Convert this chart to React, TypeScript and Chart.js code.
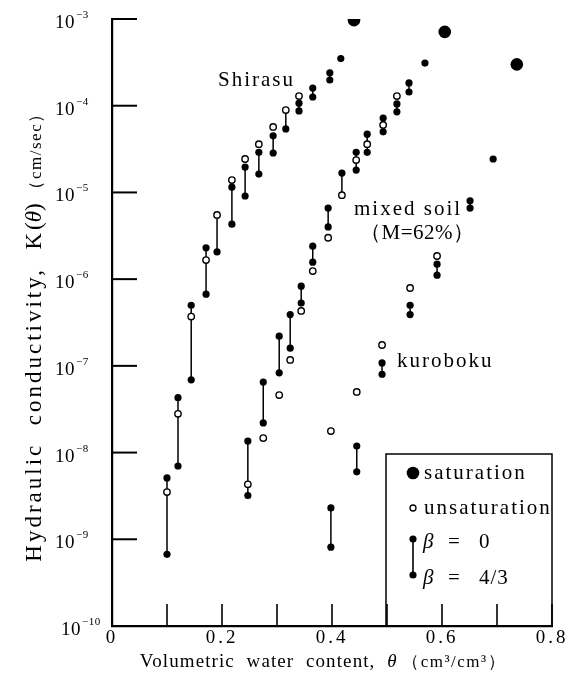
import React, { useEffect, useRef } from 'react';
import { Chart, registerables } from 'chart.js';

Chart.register(...registerables);

// ---------- axis ticks ----------
const yDecades = [-3, -4, -5, -6, -7, -8, -9, -10];
const xTickValues = [0, 0.1, 0.2, 0.3, 0.4, 0.5, 0.6, 0.7, 0.8];

// ---------- Shirasu ----------
const shirasuTheta = [0.100, 0.120, 0.144, 0.171, 0.191, 0.218, 0.242, 0.267, 0.293, 0.316, 0.340, 0.365, 0.396, 0.416];
const shirasuBeta0 = [5.1e-9, 4.3e-8, 5.0e-7, 2.3e-6, null, 1.15e-5, 1.96e-5, 2.9e-5, 4.5e-5, null, 1.07e-4, 1.6e-4, 2.4e-4, 3.5e-4];
const shirasuUnsat = [3.5e-9, 2.8e-8, 3.7e-7, 1.66e-6, 5.5e-6, 1.39e-5, 2.43e-5, 3.6e-5, 5.7e-5, 8.9e-5, 1.29e-4, null, null, null];
const shirasuBeta43 = [6.7e-10, 7.0e-9, 6.9e-8, 6.7e-7, 2.06e-6, 4.3e-6, 9.1e-6, 1.63e-5, 2.85e-5, 5.4e-5, 8.7e-5, 1.26e-4, 1.98e-4, null];
const shirasuSat = { theta: 0.440, k: 9.7e-4 };

// ---------- mixed soil (M=62%) ----------
const mixedTheta = [0.247, 0.275, 0.304, 0.324, 0.344, 0.365, 0.393, 0.418, 0.444, 0.464, 0.493, 0.518, 0.540, 0.569];
const mixedBeta0 = [1.36e-8, 6.5e-8, 2.2e-7, 3.9e-7, 8.3e-7, 2.4e-6, 6.6e-6, 1.67e-5, 2.9e-5, 4.7e-5, 7.2e-5, 1.05e-4, 1.83e-4, 3.1e-4];
const mixedUnsat = [4.3e-9, 1.47e-8, 4.6e-8, 1.17e-7, 4.3e-7, 1.24e-6, 3.0e-6, 9.3e-6, 2.36e-5, 3.6e-5, 6.0e-5, 1.29e-4, null, null];
const mixedBeta43 = [3.2e-9, 2.2e-8, 8.3e-8, 1.6e-7, 5.3e-7, 1.57e-6, 4.0e-6, null, 1.81e-5, 2.9e-5, 5.0e-5, 8.5e-5, 1.44e-4, null];
const mixedSat = { theta: 0.605, k: 7.1e-4 };

// ---------- kuroboku ----------
const kuroTheta = [0.398, 0.445, 0.491, 0.542, 0.591, 0.651, 0.693];
const kuroBeta0 = [2.3e-9, 1.19e-8, 1.08e-7, 5.0e-7, 1.49e-6, 8.0e-6, 2.43e-5];
const kuroUnsat = [1.77e-8, 5.0e-8, 1.74e-7, 7.9e-7, 1.85e-6, null, null];
const kuroBeta43 = [8.1e-10, 6.0e-9, 8.0e-8, 3.9e-7, 1.11e-6, 6.6e-6, null];
const kuroSat = { theta: 0.736, k: 3.0e-4 };

type V = number | null;
const SERIF = '"Liberation Serif", "Times New Roman", serif';

function pts(theta: number[], vals: V[]) {
  const out: { x: number; y: number }[] = [];
  theta.forEach((t, i) => {
    const v = vals[i];
    if (v != null) out.push({ x: t, y: v });
  });
  return out;
}

function segs(theta: number[], b0: V[], un: V[], b43: V[]) {
  const out: { x: number; y: number | null }[] = [];
  theta.forEach((t, i) => {
    const top = b0[i] ?? un[i];
    const bot = b43[i] ?? un[i];
    if (top != null && bot != null && top !== bot) {
      out.push({ x: t, y: top }, { x: t, y: bot }, { x: t, y: null });
    }
  });
  return out;
}

type Run = { t: string; f: string; ls?: number; dy?: number };
function drawRuns(ctx: CanvasRenderingContext2D, runs: Run[], x: number, y: number, align: 'left' | 'center') {
  const widths = runs.map((r) => {
    ctx.font = r.f;
    (ctx as any).letterSpacing = (r.ls ?? 0) + 'px';
    return ctx.measureText(r.t).width;
  });
  const total = widths.reduce((a, b) => a + b, 0);
  let cx = align === 'center' ? x - total / 2 : x;
  runs.forEach((r, i) => {
    ctx.font = r.f;
    (ctx as any).letterSpacing = (r.ls ?? 0) + 'px';
    ctx.fillText(r.t, cx, y + (r.dy ?? 0));
    cx += widths[i];
  });
}

const decor = {
  id: 'decor',
  beforeDraw(chart: any) {
    (chart.ctx as any).letterSpacing = '3px';
  },
  afterDraw(chart: any) {
    const ctx: CanvasRenderingContext2D = chart.ctx;
    (ctx as any).letterSpacing = '0px';
    const { left, right, bottom } = chart.chartArea;
    const xs = chart.scales.x;
    const ys = chart.scales.y;
    ctx.save();
    ctx.strokeStyle = '#000';
    ctx.fillStyle = '#000';
    ctx.textAlign = 'left';
    ctx.textBaseline = 'alphabetic';

    // inward y tick marks
    ctx.lineWidth = 2;
    yDecades.forEach((e) => {
      if (e === -10) return;
      const y = ys.getPixelForValue(Math.pow(10, e));
      ctx.beginPath();
      ctx.moveTo(left, y);
      ctx.lineTo(left + 25, y);
      ctx.stroke();
    });
    // inward x tick marks
    ctx.lineWidth = 1.6;
    xTickValues.forEach((v) => {
      if (v === 0) return;
      const x = xs.getPixelForValue(v);
      ctx.beginPath();
      ctx.moveTo(x, bottom);
      ctx.lineTo(x, bottom - 22);
      ctx.stroke();
    });

    // y tick labels 10^e
    yDecades.forEach((e) => {
      const y = ys.getPixelForValue(Math.pow(10, e));
      const x0 = e === -10 ? 61 : 55;
      ctx.font = '19px ' + SERIF;
      (ctx as any).letterSpacing = '0.5px';
      ctx.fillText('10', x0, y + 9);
      const w = ctx.measureText('10').width;
      ctx.font = '11px ' + SERIF;
      (ctx as any).letterSpacing = '0.5px';
      ctx.fillText('\u2212' + -e, x0 + w + 1, y - 1);
    });

    // x axis title
    drawRuns(ctx, [
      { t: 'Volumetric  water  content,  ', f: '19px ' + SERIF, ls: 1.1 },
      { t: '\u03b8', f: 'italic 19px ' + SERIF },
      { t: ' \uff08cm\u00b3/cm\u00b3\uff09', f: '17px ' + SERIF, ls: 1.5 },
    ], 323, 667, 'center');

    // y axis title (rotated)
    ctx.save();
    ctx.translate(41, 333);
    ctx.rotate(-Math.PI / 2);
    drawRuns(ctx, [
      { t: 'Hydraulic  conductivity,  K', f: '23px ' + SERIF, ls: 3 },
      { t: '(', f: '23px ' + SERIF },
      { t: '\u03b8', f: 'italic 23px ' + SERIF },
      { t: ')', f: '23px ' + SERIF },
      { t: ' \uff08cm/sec\uff09', f: '17px ' + SERIF, ls: 1.5 },
    ], 0, 0, 'center');
    ctx.restore();

    // annotations
    const annFont = '21px ' + SERIF;
    drawRuns(ctx, [{ t: 'Shirasu', f: annFont, ls: 2 }], 218, 86, 'left');
    drawRuns(ctx, [{ t: 'mixed soil', f: annFont, ls: 2 }], 354, 215, 'left');
    drawRuns(ctx, [{ t: '\uff08M=62%\uff09', f: annFont, ls: 0.5 }], 360, 239, 'left');
    drawRuns(ctx, [{ t: 'kuroboku', f: annFont, ls: 2 }], 397, 367, 'left');

    // legend box
    ctx.lineWidth = 1.5;
    ctx.beginPath();
    ctx.moveTo(386, bottom);
    ctx.lineTo(386, 454);
    ctx.lineTo(right, 454);
    ctx.lineTo(right, bottom);
    ctx.stroke();
    // saturation
    ctx.beginPath();
    ctx.arc(413, 473, 6.3, 0, Math.PI * 2);
    ctx.fill();
    drawRuns(ctx, [{ t: 'saturation', f: annFont, ls: 2 }], 424, 479, 'left');
    // unsaturation
    ctx.beginPath();
    ctx.arc(413, 508, 3, 0, Math.PI * 2);
    ctx.fillStyle = '#fff';
    ctx.fill();
    ctx.lineWidth = 1.3;
    ctx.stroke();
    ctx.fillStyle = '#000';
    drawRuns(ctx, [{ t: 'unsaturation', f: annFont, ls: 2 }], 424, 514, 'left');
    // beta markers
    ctx.lineWidth = 1.6;
    ctx.beginPath();
    ctx.moveTo(413, 539);
    ctx.lineTo(413, 575);
    ctx.stroke();
    [539, 575].forEach((yy) => {
      ctx.beginPath();
      ctx.arc(413, yy, 3.6, 0, Math.PI * 2);
      ctx.fill();
    });
    drawRuns(ctx, [{ t: '\u03b2', f: 'italic 21px ' + SERIF }], 423, 548, 'left');
    drawRuns(ctx, [{ t: '=', f: annFont }], 448, 548, 'left');
    drawRuns(ctx, [{ t: '0', f: annFont }], 479, 548, 'left');
    drawRuns(ctx, [{ t: '\u03b2', f: 'italic 21px ' + SERIF }], 423, 584, 'left');
    drawRuns(ctx, [{ t: '=', f: annFont }], 448, 584, 'left');
    drawRuns(ctx, [{ t: '4/3', f: annFont, ls: 1 }], 479, 584, 'left');

    ctx.restore();
  },
};

function lineDs(data: any[]) {
  return {
    type: 'line' as const,
    data,
    showLine: true,
    spanGaps: false,
    borderColor: '#000',
    borderWidth: 1.5,
    pointRadius: 0,
    fill: false,
    order: 3,
  };
}
function filledDs(data: any[], r = 3.6) {
  return {
    type: 'scatter' as const,
    data,
    pointRadius: r,
    pointBackgroundColor: '#000',
    pointBorderColor: '#000',
    pointBorderWidth: 0,
    order: 2,
  };
}
function openDs(data: any[]) {
  return {
    type: 'scatter' as const,
    data,
    pointRadius: 3.2,
    pointBackgroundColor: '#fff',
    pointBorderColor: '#000',
    pointBorderWidth: 1.4,
    order: 1,
  };
}

export default function App() {
  const ref = useRef<HTMLCanvasElement | null>(null);
  useEffect(() => {
    if (!ref.current) return;
    const datasets: any[] = [
      lineDs(segs(shirasuTheta, shirasuBeta0, shirasuUnsat, shirasuBeta43)),
      lineDs(segs(mixedTheta, mixedBeta0, mixedUnsat, mixedBeta43)),
      lineDs(segs(kuroTheta, kuroBeta0, kuroUnsat, kuroBeta43)),
      filledDs(pts(shirasuTheta, shirasuBeta0)),
      filledDs(pts(shirasuTheta, shirasuBeta43)),
      filledDs(pts(mixedTheta, mixedBeta0)),
      filledDs(pts(mixedTheta, mixedBeta43)),
      filledDs(pts(kuroTheta, kuroBeta0)),
      filledDs(pts(kuroTheta, kuroBeta43)),
      openDs(pts(shirasuTheta, shirasuUnsat)),
      openDs(pts(mixedTheta, mixedUnsat)),
      openDs(pts(kuroTheta, kuroUnsat)),
      filledDs(
        [
          { x: shirasuSat.theta, y: shirasuSat.k },
          { x: mixedSat.theta, y: mixedSat.k },
          { x: kuroSat.theta, y: kuroSat.k },
        ],
        6.3
      ),
    ];
    const chart = new Chart(ref.current, {
      type: 'scatter',
      data: { datasets },
      options: {
        responsive: false,
        animation: false,
        events: [],
        layout: { padding: { top: 19, right: 25, left: 0, bottom: 0 } },
        plugins: { legend: { display: false }, tooltip: { enabled: false }, title: { display: false } },
        scales: {
          x: {
            type: 'linear',
            min: 0,
            max: 0.8,
            afterFit: (s: any) => {
              s.height = 71;
            },
            afterBuildTicks: (s: any) => {
              s.ticks = xTickValues.map((v) => ({ value: v }));
            },
            ticks: {
              autoSkip: false,
              maxRotation: 0,
              padding: 1,
              color: '#000',
              font: { family: 'Liberation Serif', size: 19 },
              callback: (v: any) => {
                const n = Math.round(Number(v) * 10);
                if (n % 2 !== 0) return '';
                return n === 0 ? '0' : (n / 10).toFixed(1);
              },
            },
            grid: { display: false, drawTicks: false },
            border: { display: true, color: '#000', width: 2.2 },
          },
          y: {
            type: 'logarithmic',
            min: 1e-10,
            max: 1e-3,
            afterFit: (s: any) => {
              s.width = 112;
            },
            ticks: { display: false },
            grid: { display: false, drawTicks: false },
            border: { display: true, color: '#000', width: 2.2 },
          },
        },
      },
      plugins: [decor],
    } as any);
    return () => chart.destroy();
  }, []);
  return (
    <div style={{ position: 'fixed', left: 0, top: 0, width: 577, height: 697, background: '#fff' }}>
      <canvas ref={ref} width={577} height={697} style={{ display: 'block' }} />
    </div>
  );
}
